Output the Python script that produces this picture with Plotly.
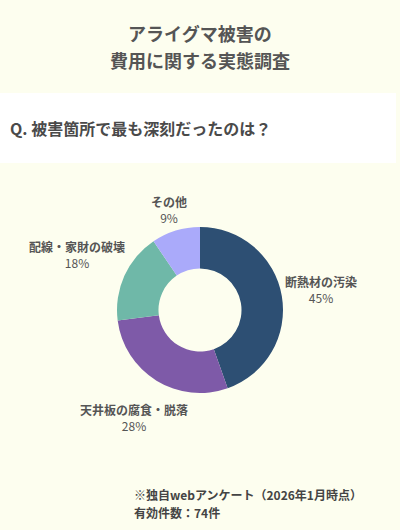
import math
import plotly.graph_objects as go

# データ（回答数 74件）
categories = ['断熱材の汚染', '天井板の腐食・脱落', '配線・家財の破壊', 'その他']
counts = [33, 21, 13, 7]
colors = ['#2d4f73', '#7e5aa8', '#6fb8a8', '#aaaafa']

font_jp = 'Noto Sans CJK JP'
bg = '#fdfeef'
W, H = 400, 530

# ドーナツの位置（ピクセル）
cx, cy, r_out = 200, 310, 83
lab_size = 12

fig = go.Figure(go.Pie(
    labels=categories,
    values=counts,
    hole=0.5,
    sort=False,
    direction='clockwise',
    rotation=0,
    marker=dict(colors=colors, line=dict(width=0)),
    textinfo='none',
    domain=dict(x=[(cx - r_out) / W, (cx + r_out) / W],
                y=[1 - (cy + r_out) / H, 1 - (cy - r_out) / H]),
    showlegend=False,
    hoverinfo='label+percent',
))

# ラベルはスライスの外側に配置（角度はデータから計算）
total = sum(counts)
annotations = []
cum = 0
for name, v in zip(categories, counts):
    mid = (cum + v / 2) / total * 2 * math.pi
    cum += v
    sx, sy = math.sin(mid), -math.cos(mid)
    w = len(name) * lab_size
    h = lab_size * 2.6
    r = r_out + 2 + w / 2 * abs(sx) + h / 2 * abs(sy)
    px, py = cx + r * sx, cy + r * sy
    annotations.append(dict(
        text=f'<b>{name}</b><br>{round(v / total * 100)}%',
        x=px / W, y=1 - py / H, xref='paper', yref='paper',
        xanchor='center', yanchor='middle', showarrow=False,
        font=dict(size=lab_size, color='#555555')))

annotations += [
    dict(text='<b>アライグマ被害の</b>', x=0.5, y=1 - 33 / H,
         xref='paper', yref='paper', xanchor='center', yanchor='middle',
         showarrow=False, font=dict(size=18, color='#555555')),
    dict(text='<b>費用に関する実態調査</b>', x=0.5, y=1 - 60 / H,
         xref='paper', yref='paper', xanchor='center', yanchor='middle',
         showarrow=False, font=dict(size=18, color='#555555')),
    dict(text='<b>Q. 被害箇所で最も深刻だったのは？</b>', x=8 / W, y=1 - 128 / H,
         xref='paper', yref='paper', xanchor='left', yanchor='middle',
         showarrow=False, font=dict(size=16, color='#4a4a4a')),
    dict(text='<b>※独自webアンケート（2026年1月時点）</b>', x=132 / W, y=1 - 494 / H,
         xref='paper', yref='paper', xanchor='left', yanchor='middle',
         showarrow=False, font=dict(size=12, color='#444444')),
    dict(text='<b>有効件数：74件</b>', x=132 / W, y=1 - 512 / H,
         xref='paper', yref='paper', xanchor='left', yanchor='middle',
         showarrow=False, font=dict(size=12, color='#444444')),
]

fig.update_layout(
    width=W,
    height=H,
    margin=dict(l=0, r=0, t=0, b=0),
    paper_bgcolor=bg,
    plot_bgcolor=bg,
    font=dict(family=font_jp, color='#555555'),
    shapes=[dict(type='rect', xref='paper', yref='paper',
                 x0=0, x1=396 / W, y0=1 - 163 / H, y1=1 - 93 / H,
                 fillcolor='white', line=dict(width=0), layer='below')],
    annotations=annotations,
)

fig.write_html('out.html', config={'displayModeBar': False},
               post_script="document.body.style.margin='0';")
